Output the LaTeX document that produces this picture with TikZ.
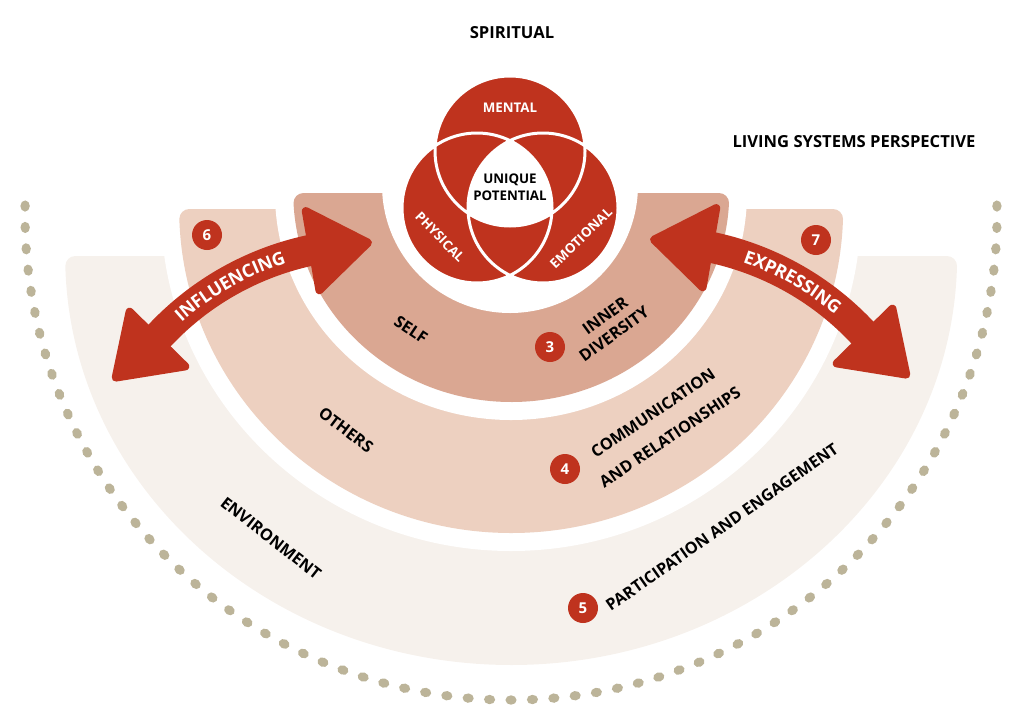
\documentclass[tikz,border=0pt]{standalone}
\usepackage{fontspec}
\setmainfont{Open Sans}
\usetikzlibrary{decorations.text}
\definecolor{cred}{RGB}{191,51,30}
\definecolor{cself}{RGB}{218,167,146}
\definecolor{cothers}{RGB}{237,208,192}
\definecolor{cenv}{RGB}{246,241,236}
\definecolor{cdot}{RGB}{188,180,153}
\tikzset{
 lbl/.style={font=\bfseries\fontsize{16.2}{19}\selectfont, text=black, inner sep=0pt},
 ttl/.style={font=\bfseries\fontsize{16.6}{19}\selectfont, text=black, inner sep=0pt},
 venntxt/.style={font=\bfseries\fontsize{13.3}{16.5}\selectfont, inner sep=0pt},
 numc/.style={circle, fill=cred, text=white, minimum size=30pt, inner sep=0pt, font=\bfseries\fontsize{15}{15}\selectfont},
 headc/.style={fill=cred, draw=cred, line width=8pt, line join=round},
 shaft/.style={draw=cred, line width=31pt},
 gapfill/.style={fill=white},
}
\newcommand\bandshape[5]{\fill[#1] ({#2-#4+10},#3) -- ({#2+#4-10},#3) arc[start angle=-90,end angle=0,radius=10] arc[start angle={asin(10/#5)},end angle={180-asin(10/#5)},x radius=#4,y radius=#5] arc[start angle=180,end angle=270,radius=10] -- cycle;}
\begin{document}
\begin{tikzpicture}[x=1pt,y=-1pt]
\useasboundingbox (0,0) rectangle (1024,723);
% dotted outer arc
\foreach \i in {0,...,72}{
 \pgfmathsetmacro\t{181.06-\i*182.12/72}
 \fill[cdot,shift={({511+486*cos(\t)},{215+485*sin(\t)})},rotate={-\t-90}] (0,0) ellipse[x radius=5.6pt,y radius=4.7pt];
}
% bands
\bandshape{cenv}{511}{256}{446}{409}
\fill[gapfill] (161,209) arc[start angle=180,end angle=0,x radius=350,y radius=342] -- cycle;
\bandshape{cothers}{511}{209}{332}{324}
\fill[gapfill] (275,193) arc[start angle=180,end angle=0,x radius=236,y radius=227] -- cycle;
\bandshape{cself}{511}{193}{218}{209}
\fill[white] (510,185) circle[radius=128];
% venn
\fill[cred] (510,151) circle[radius=75];
\fill[cred] (477,208) circle[radius=75];
\fill[cred] (543,208) circle[radius=75];
\begin{scope}
\clip (510,151) circle[radius=75];
\clip (477,208) circle[radius=75];
\fill[white] (543,208) circle[radius=75];
\end{scope}
\draw[white,line width=3pt] (510,151) circle[radius=75] (477,208) circle[radius=75] (543,208) circle[radius=75];
% titles
\node[ttl] (spiritual) at (512,33) {SPIRITUAL};
\node[ttl] (lsp) at (854,142) {LIVING SYSTEMS PERSPECTIVE};
% venn labels
\node[venntxt,text=white] (mental) at (510,108) {MENTAL};
\node[venntxt,text=black,align=center] (unique) at (510,187) {UNIQUE\\POTENTIAL};
\node[venntxt,text=white,rotate=-46] (physical) at (440,237) {PHYSICAL};
\node[venntxt,text=white,rotate=44] (emotional) at (581,238) {EMOTIONAL};
% band labels
\node[lbl,rotate=-34] (self) at (411,330) {SELF};
\node[lbl,rotate=36] (inner) at (605,316) {INNER};
\node[lbl,rotate=36] (diversity) at (614,334) {DIVERSITY};
\node[lbl,rotate=-37] (others) at (346,430) {OTHERS};
\node[lbl,rotate=34] (comm) at (653,413) {COMMUNICATION};
\node[lbl,rotate=34] (andrel) at (670,437) {AND RELATIONSHIPS};
\node[lbl,rotate=-38] (environment) at (271,538) {ENVIRONMENT};
\node[lbl,rotate=35] (part) at (722,527) {PARTICIPATION AND ENGAGEMENT};
% arrows
\draw[shaft] (149.2,347.2) arc[start angle=220,end angle=260.5,radius=289];
\filldraw[headc] (129.6,311.7) -- (115.7,377.6) -- (185.3,366.4) -- cycle;
\filldraw[headc] (305.8,211.1) -- (368,242.7) -- (319.4,290.2) -- cycle;
\path[decorate,decoration={text along path,text align=center,raise=-6.3pt,text color=white,text={|\bfseries\fontsize{18}{20}\selectfont|INFLUENCING}}] (158.5,336.7) arc[start angle=222.8,end angle=257.9,radius=289];
\draw[shaft] (699.1,245.0) arc[start angle=279.5,end angle=320,radius=289];
\filldraw[headc] (716.2,208.1) -- (654,239.7) -- (702.6,287.2) -- cycle;
\filldraw[headc] (892.4,308.7) -- (906.3,374.6) -- (836.7,363.4) -- cycle;
\path[decorate,decoration={text along path,text align=center,raise=-6.3pt,text color=white,text={|\bfseries\fontsize{18}{20}\selectfont|EXPRESSING}}] (712,247.4) arc[start angle=282.1,end angle=317.2,radius=289];
% numbers
\node[numc] (n3) at (550,347) {3};
\node[numc] (n4) at (565,469) {4};
\node[numc] (n5) at (583,608) {5};
\node[numc] (n6) at (207,235) {6};
\node[numc] (n7) at (816,240) {7};
\end{tikzpicture}
\end{document}
